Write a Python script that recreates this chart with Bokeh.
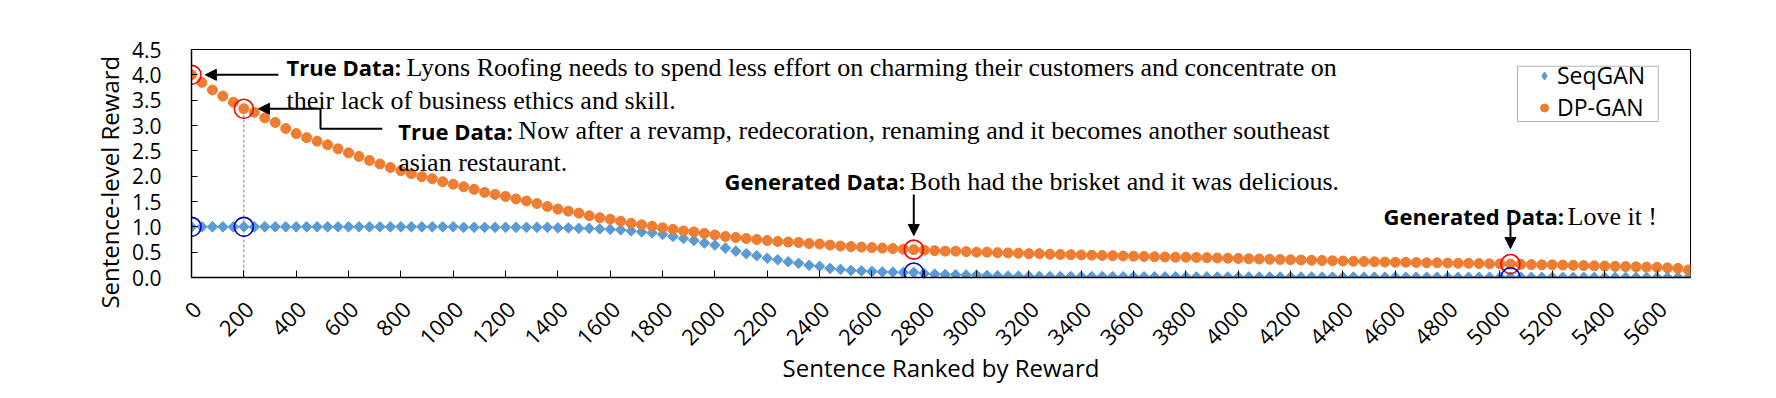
import math
from bokeh.plotting import figure
from bokeh.models import (Range1d, FixedTicker, NumeralTickFormatter, Legend, LegendItem,
                          Label, Arrow, NormalHead, BoxAnnotation, LinearAxis)
from bokeh.embed import file_html
from bokeh.resources import INLINE

# ---------------- data ----------------
rank = list(range(0, 5721, 40))

seqgan = [
    1.00, 1.00, 1.00, 1.00, 1.00, 1.00, 1.00, 1.00, 1.00, 1.00,
    1.00, 1.00, 1.00, 1.00, 1.00, 1.00, 1.00, 1.00, 1.00, 1.00,
    1.00, 1.00, 1.00, 1.00, 1.00, 1.00, 0.99, 0.99, 0.99, 0.99,
    0.99, 0.99, 0.99, 0.99, 0.99, 0.98, 0.98, 0.97, 0.97, 0.96,
    0.95, 0.94, 0.92, 0.90, 0.88, 0.85, 0.81, 0.77, 0.73, 0.68,
    0.64, 0.58, 0.52, 0.47, 0.43, 0.38, 0.35, 0.31, 0.28, 0.24,
    0.22, 0.18, 0.16, 0.14, 0.13, 0.12, 0.11, 0.105, 0.10, 0.10,
    0.08, 0.066, 0.06, 0.055, 0.05, 0.047, 0.04, 0.035, 0.03, 0.027,
    0.025, 0.022, 0.02, 0.02, 0.02, 0.019, 0.018, 0.018, 0.017, 0.016,
    0.016, 0.015, 0.015, 0.014, 0.014, 0.013, 0.012, 0.012, 0.011, 0.011,
    0.010, 0.010, 0.010, 0.010, 0.009, 0.009, 0.009, 0.009, 0.008, 0.008,
    0.008, 0.008, 0.007, 0.007, 0.007, 0.007, 0.006, 0.006, 0.006, 0.006,
    0.005, 0.005, 0.005, 0.005, 0.005, 0.005, 0.004, 0.004, 0.004, 0.004,
    0.004, 0.004, 0.003, 0.003, 0.003, 0.003, 0.003, 0.003, 0.002, 0.002,
    0.002, 0.002, 0.002, 0.002,
]

dpgan = [
    4.00, 3.85, 3.70, 3.58, 3.46, 3.33, 3.26, 3.15, 3.06, 2.94,
    2.84, 2.76, 2.69, 2.62, 2.54, 2.46, 2.39, 2.31, 2.24, 2.17,
    2.11, 2.05, 1.99, 1.95, 1.89, 1.84, 1.79, 1.74, 1.68, 1.64,
    1.60, 1.55, 1.51, 1.46, 1.40, 1.35, 1.31, 1.27, 1.22, 1.18,
    1.15, 1.11, 1.07, 1.04, 1.01, 0.98, 0.95, 0.92, 0.90, 0.87,
    0.84, 0.81, 0.79, 0.77, 0.75, 0.73, 0.71, 0.70, 0.69, 0.67,
    0.66, 0.64, 0.62, 0.61, 0.60, 0.59, 0.58, 0.57, 0.56, 0.55,
    0.54, 0.53, 0.52, 0.52, 0.51, 0.50, 0.50, 0.49, 0.485, 0.48,
    0.47, 0.47, 0.46, 0.455, 0.45, 0.445, 0.44, 0.435, 0.43, 0.425,
    0.42, 0.415, 0.41, 0.405, 0.40, 0.40, 0.395, 0.39, 0.385, 0.38,
    0.375, 0.37, 0.365, 0.36, 0.355, 0.35, 0.345, 0.34, 0.335, 0.33,
    0.325, 0.32, 0.315, 0.31, 0.305, 0.30, 0.30, 0.295, 0.29, 0.29,
    0.285, 0.28, 0.28, 0.275, 0.27, 0.27, 0.265, 0.26, 0.255, 0.25,
    0.25, 0.245, 0.24, 0.235, 0.23, 0.225, 0.22, 0.215, 0.21, 0.205,
    0.20, 0.19, 0.18, 0.15,
]

x_ticks = list(range(0, 5601, 200))
y_ticks = [0.0, 0.5, 1.0, 1.5, 2.0, 2.5, 3.0, 3.5, 4.0, 4.5]
highlight = [0, 5, 69, 126]   # indices of the circled sentences

series_names = ["SeqGAN", "DP-GAN"]
x_title = "Sentence Ranked by Reward"
y_title = "Sentence-level Reward"

true1_bold = "True Data:"
true1_line1 = "Lyons Roofing needs to spend less effort on charming their customers and concentrate on"
true1_line2 = "their lack of business ethics and skill."
true2_bold = "True Data:"
true2_line1 = "Now after a revamp, redecoration, renaming and it becomes another southeast"
true2_line2 = "asian restaurant."
gen1_bold = "Generated Data:"
gen1_text = "Both had the brisket and it was delicious."
gen2_bold = "Generated Data:"
gen2_text = "Love it !"

BLUE = "#5B9BD5"
ORANGE = "#ED7D31"
SANS = "Open Sans"
SERIF = "Liberation Serif"
LABEL_SHIFT = 23   # rotated tick labels sit slightly right of their ticks (data units)

# ---------------- figure ----------------
p = figure(width=1776, height=398, output_backend="svg", toolbar_location=None,
           x_range=Range1d(0, 5728), y_range=Range1d(0, 4.5),
           min_border_left=191, min_border_right=86, min_border_top=49, min_border_bottom=121)
p.background_fill_color = "white"
p.border_fill_color = "white"
p.outline_line_color = "black"
p.outline_line_width = 1
p.grid.visible = False

# main x axis: line + ticks only
xa = p.xaxis[0]
xa.ticker = FixedTicker(ticks=x_ticks)
xa.major_tick_in = 7
xa.major_tick_out = 0
xa.minor_tick_in = 0
xa.minor_tick_out = 0
xa.axis_line_color = "black"
xa.axis_line_width = 1.5
xa.major_tick_line_color = "black"
xa.major_label_text_font_size = "1px"
xa.major_label_text_alpha = 0
xa.major_label_standoff = 0

# second x axis: the rotated tick labels and the title
shifted = [t + LABEL_SHIFT for t in x_ticks]
xl = LinearAxis(ticker=FixedTicker(ticks=shifted),
                major_label_overrides={s: str(t) for s, t in zip(shifted, x_ticks)},
                major_tick_in=0, major_tick_out=0, minor_tick_in=0, minor_tick_out=0,
                axis_line_color=None, major_tick_line_color=None, minor_tick_line_color=None,
                major_label_orientation=math.pi / 4, major_label_standoff=28,
                major_label_text_font=SANS, major_label_text_font_size="22px",
                major_label_text_color="black",
                axis_label=x_title, axis_label_text_font=SANS, axis_label_text_font_size="24px",
                axis_label_text_font_style="normal", axis_label_text_color="black",
                axis_label_standoff=-4)
p.add_layout(xl, "below")

ya = p.yaxis[0]
ya.ticker = FixedTicker(ticks=y_ticks)
ya.formatter = NumeralTickFormatter(format="0.0")
ya.major_tick_in = 6
ya.major_tick_out = 0
ya.minor_tick_in = 0
ya.minor_tick_out = 0
ya.axis_line_color = "black"
ya.axis_line_width = 1.5
ya.major_tick_line_color = "black"
ya.major_label_text_font = SANS
ya.major_label_text_font_size = "21px"
ya.major_label_text_color = "black"
ya.major_label_standoff = 30
# trailing no-break spaces push the visible title a little downwards, as in the reference
ya.axis_label = y_title + "\u00a0" * 6
ya.axis_label_text_font = SANS
ya.axis_label_text_font_size = "24px"
ya.axis_label_text_font_style = "normal"
ya.axis_label_text_color = "black"
ya.axis_label_standoff = 3

# dashed guide at the second circled sentence
i2 = highlight[1]
p.segment(x0=[rank[i2]], y0=[0], x1=[rank[i2]], y1=[dpgan[i2]],
          line_color="#7f7f7f", line_width=1, line_dash="3 2")

r_blue = p.scatter(rank, seqgan, marker="square", angle=math.pi / 4, size=7.5,
                   fill_color=BLUE, line_color=BLUE)
# legend key glyph (a diamond), drawn on the first SeqGAN point where it is hidden
r_blue_key = p.scatter(x=rank[:1], y=seqgan[:1], marker="diamond", size=11,
                       fill_color=BLUE, line_color=BLUE)
r_orange = p.scatter(rank, dpgan, marker="circle", size=10,
                     fill_color=ORANGE, line_color=ORANGE)

# highlight circles
p.scatter([rank[i] for i in highlight], [dpgan[i] for i in highlight], marker="circle",
          size=19, fill_color=None, line_color="red", line_width=1.6)
p.scatter([rank[i] for i in highlight], [seqgan[i] for i in highlight], marker="circle",
          size=19, fill_color=None, line_color="#0000CD", line_width=1.6)

# arrows
def head():
    return NormalHead(size=11, fill_color="black", line_color="black")

i1 = highlight[0]
p.add_layout(Arrow(end=head(), x_start=332, y_start=dpgan[i1], x_end=rank[i1] + 53, y_end=dpgan[i1],
                   line_color="black", line_width=2))
p.line([729, 493, 493], [2.935, 2.935, dpgan[i2]], line_color="black", line_width=2)
p.add_layout(Arrow(end=head(), x_start=493, y_start=dpgan[i2], x_end=rank[i2] + 56, y_end=dpgan[i2],
                   line_color="black", line_width=2))
i3 = highlight[2]
p.add_layout(Arrow(end=head(), x_start=rank[i3], y_start=1.638, x_end=rank[i3], y_end=0.83,
                   line_color="black", line_width=2))
i4 = highlight[3]
p.add_layout(Arrow(end=head(), x_start=rank[i4], y_start=1.066, x_end=rank[i4], y_end=0.572,
                   line_color="black", line_width=2))

# annotation texts
def bold(x, y, t):
    p.add_layout(Label(x=x, y=y, text=t, text_font=SANS, text_font_style="bold",
                       text_font_size="22px", text_color="black", text_baseline="alphabetic"))

def serif(x, y, t):
    p.add_layout(Label(x=x, y=y, text=t, text_font=SERIF, text_font_size="26px",
                       text_color="black", text_baseline="alphabetic"))

bold(363, 4.145, true1_bold)
serif(822, 4.145, true1_line1)
serif(363, 3.494, true1_line2)
bold(790, 2.901, true2_bold)
serif(1249, 2.901, true2_line1)
serif(790, 2.276, true2_line2)
bold(2037, 1.895, gen1_bold)
serif(2746, 1.895, gen1_text)
bold(4555, 1.204, gen2_bold)
serif(5258, 1.204, gen2_text)

# legend
p.add_layout(BoxAnnotation(left=5067, right=5605, top=4.170, bottom=3.079,
                           fill_color="white", fill_alpha=1.0, line_color="black", line_width=1))
legend = Legend(items=[LegendItem(label=series_names[0], renderers=[r_blue_key]),
                       LegendItem(label=series_names[1], renderers=[r_orange])],
                location=(1343, 154), border_line_color=None, background_fill_alpha=0,
                padding=2, spacing=0, margin=0, glyph_width=20, glyph_height=27,
                label_height=27, label_standoff=3,
                label_text_font=SANS, label_text_font_size="23px", label_text_color="black")
p.add_layout(legend, "center")

open("out.html", "w").write(file_html(p, INLINE))
